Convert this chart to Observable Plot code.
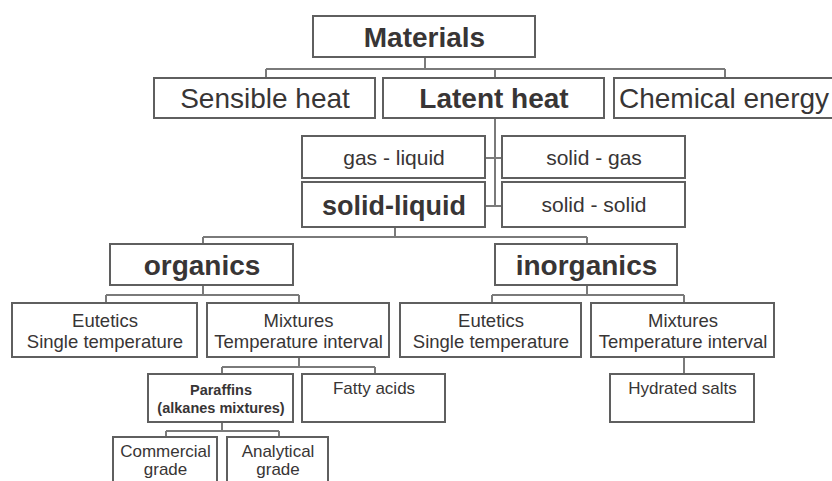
<!DOCTYPE html>
<html>
<head>
<meta charset="utf-8">
<script src="https://cdn.jsdelivr.net/npm/d3@7"></script>
<script src="https://cdn.jsdelivr.net/npm/@observablehq/plot@0.6"></script>
<style>
  html, body { margin: 0; padding: 0; background: #fff; overflow: hidden; }
  #chart { width: 832px; height: 481px; overflow: hidden; }
</style>
</head>
<body>
<div id="chart"></div>
<script>
// ---- tree content ----
const labels = [
  "Materials",
  "Sensible heat", "Latent heat", "Chemical energy",
  "gas - liquid", "solid - gas", "solid-liquid", "solid - solid",
  "organics", "inorganics",
  "Eutetics\nSingle temperature", "Mixtures\nTemperature interval",
  "Eutetics\nSingle temperature", "Mixtures\nTemperature interval",
  "Paraffins\n(alkanes mixtures)", "Fatty acids",
  "Hydrated salts",
  "Commercial\ngrade", "Analytical\ngrade"
];
const parents = [-1, 0, 0, 0, 2, 2, 2, 2, 6, 6, 8, 8, 9, 9, 11, 11, 13, 14, 14];
const linkKinds = ["", "bus", "bus", "bus", "side", "side", "side", "side",
  "bus", "bus", "bus", "bus", "bus", "bus", "bus", "bus", "bus", "bus", "bus"];

// ---- layout (box extents in picture pixels) ----
const boxLeft   = [313, 154, 383, 614, 302, 502, 302, 502, 110, 495,  12, 207, 400, 591, 148, 302, 610, 113, 227];
const boxRight  = [535, 375, 604, 833, 485, 685, 485, 685, 293, 677, 197, 389, 581, 774, 293, 445, 754, 217, 328];
const boxTop    = [ 16,  78,  78,  78, 136, 136, 182, 182, 244, 244, 303, 303, 303, 303, 374, 374, 374, 437, 437];
const boxBottom = [ 57, 118, 118, 118, 178, 178, 227, 227, 285, 285, 357, 357, 357, 357, 422, 422, 422, 495, 495];
const textStyle = ["hb", "h", "hb", "h", "m", "m", "mb", "m", "hb", "hb",
  "s", "s", "s", "s", "pb", "t", "t", "t", "t"];
const textAlign = ["c", "c", "c", "c", "c", "c", "c", "c", "c", "c",
  "c", "c", "c", "c", "c", "top", "top", "top", "top"];

const styles = {
  hb: {fontSize: 28, fontWeight: "bold", lineHeight: 1.1},
  h:  {fontSize: 28, fontWeight: "normal", lineHeight: 1.1},
  m:  {fontSize: 21, fontWeight: "normal", lineHeight: 1.1},
  mb: {fontSize: 27, fontWeight: "bold", lineHeight: 1.1},
  s:  {fontSize: 18.5, fontWeight: "normal", lineHeight: 1.15},
  t:  {fontSize: 17, fontWeight: "normal", lineHeight: 1.1},
  pb: {fontSize: 14.5, fontWeight: "bold", lineHeight: 1.25}
};

const nodes = labels.map((label, i) => ({
  i, label, parent: parents[i], kind: linkKinds[i],
  x1: boxLeft[i], x2: boxRight[i], y1: boxTop[i], y2: boxBottom[i],
  style: textStyle[i], align: textAlign[i]
}));

// ---- connectors derived from the tree ----
const segs = [];
const cx = n => (n.x1 + n.x2) / 2;
const cy = n => (n.y1 + n.y2) / 2;
nodes.forEach(p => {
  const kids = nodes.filter(n => n.parent === p.i);
  const bus = kids.filter(k => k.kind === "bus");
  const side = kids.filter(k => k.kind === "side");
  const pc = Math.round(cx(p)) + 0.5;
  if (bus.length === 1) {
    const k = bus[0];
    segs.push({x1: pc, y1: p.y2, x2: pc, y2: k.y1});
  } else if (bus.length > 1) {
    const busY = Math.round((p.y2 + d3.min(bus, k => k.y1)) / 2) + 0.5;
    segs.push({x1: pc, y1: p.y2, x2: pc, y2: busY});
    const xs = bus.map(k => Math.round(cx(k)) + 0.5).concat([pc]);
    segs.push({x1: d3.min(xs), y1: busY, x2: d3.max(xs), y2: busY});
    bus.forEach(k => {
      const kc = Math.round(cx(k)) + 0.5;
      segs.push({x1: kc, y1: busY, x2: kc, y2: k.y1});
    });
  }
  if (side.length) {
    const bottom = d3.max(side, k => Math.round(cy(k)) + 0.5);
    segs.push({x1: pc, y1: p.y2, x2: pc, y2: bottom});
    side.forEach(k => {
      const ky = Math.round(cy(k)) + 0.5;
      const edge = cx(k) < pc ? k.x2 : k.x1;
      segs.push({x1: pc, y1: ky, x2: edge, y2: ky});
    });
  }
});

const textMarks = Object.entries(styles).flatMap(([key, st]) => ["c", "top"].map(al => {
  const sub = nodes.filter(n => n.style === key && n.align === al);
  return Plot.text(sub, {
    x: d => cx(d),
    y: d => al === "top" ? d.y1 + 6 : cy(d),
    text: "label",
    lineAnchor: al === "top" ? "top" : "middle",
    fontSize: st.fontSize,
    fontWeight: st.fontWeight,
    lineHeight: st.lineHeight,
    fontFamily: "'Liberation Sans', Arial, sans-serif",
    fill: "#383535"
  });
}));

const chart = Plot.plot({
  width: 832,
  height: 481,
  margin: 0,
  style: {background: "#fff", overflow: "hidden"},
  x: {domain: [0, 832], axis: null},
  y: {domain: [0, 481], reverse: true, axis: null},
  marks: [
    Plot.link(segs, {x1: "x1", y1: "y1", x2: "x2", y2: "y2", stroke: "#7a7a7a", strokeWidth: 2}),
    Plot.rect(nodes, {x1: "x1", x2: "x2", y1: "y1", y2: "y2", fill: "#fff", stroke: "#5f5f5f", strokeWidth: 2}),
    ...textMarks
  ]
});
document.getElementById("chart").appendChild(chart);
</script>
</body>
</html>
